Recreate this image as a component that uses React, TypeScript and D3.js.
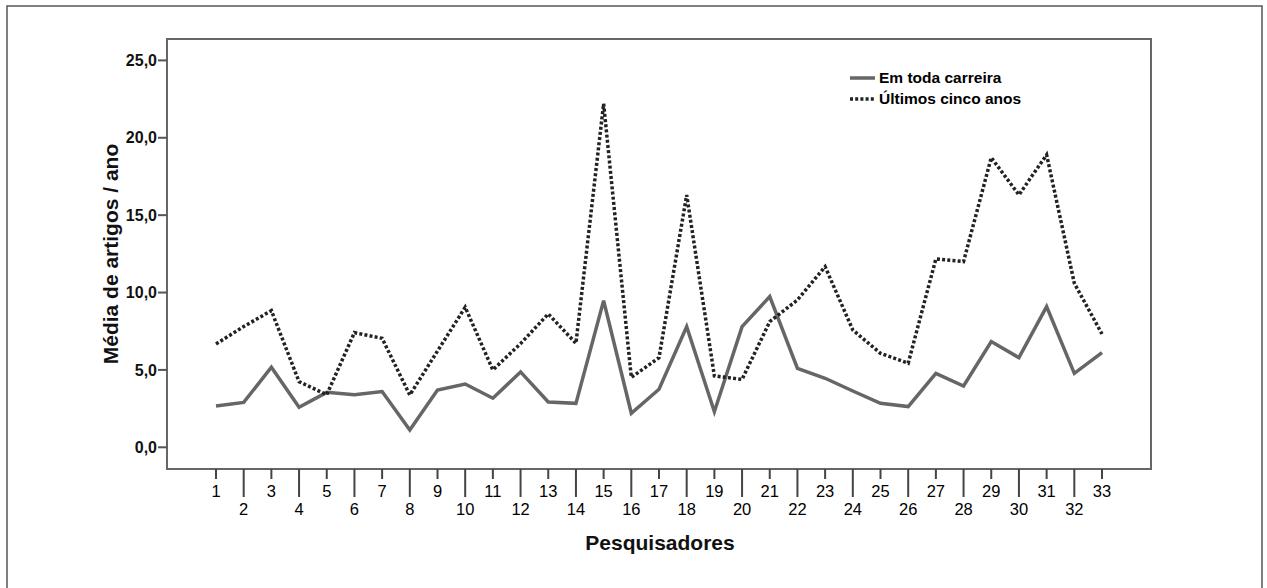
import React from "react";
import * as d3 from "d3";

const categories: number[] = d3.range(1, 34);
const careerValues: number[] = [
  2.67, 2.9, 5.17, 2.59, 3.55, 3.4, 3.6, 1.12, 3.7, 4.09, 3.17, 4.87, 2.93, 2.84, 9.48, 2.2,
  3.75, 7.8, 2.3, 7.8, 9.74, 5.1, 4.46, 3.64, 2.84, 2.63, 4.78, 3.96, 6.83, 5.79, 9.09, 4.78, 6.12,
];
const lastFiveValues: number[] = [
  6.68, 7.8, 8.83, 4.24, 3.4, 7.41, 7.04, 3.38, 6.22, 9.05, 5.0, 6.7, 8.62, 6.72, 22.2, 4.52,
  5.79, 16.3, 4.61, 4.39, 8.12, 9.52, 11.67, 7.58, 6.07, 5.43, 12.17, 12.0, 18.72, 16.31, 18.9, 10.6, 7.32,
];
const yTicks: number[] = [0, 5, 10, 15, 20, 25];
const seriesNames: string[] = ["Em toda carreira", "Últimos cinco anos"];

export default function App() {
  const W = 1267;
  const H = 588;
  const left = 167, right = 1151, top = 39, bottom = 469;
  const x = d3.scalePoint<number>().domain(categories).range([216, 1102]);
  const y = d3.scaleLinear().domain([0, 25]).range([447.3, 60.4]);
  const line = d3
    .line<number>()
    .x((_, i) => x(categories[i]) as number)
    .y((d) => y(d));
  const font = "Arial, 'Liberation Sans', Helvetica, sans-serif";
  const fmt = (v: number) => v.toFixed(1).replace(".", ",");

  return (
    <svg
      width={W}
      height={H}
      style={{ position: "absolute", left: 0, top: 0, background: "#fff" }}
      fontFamily={font}
    >
      <rect x={7} y={6} width={1255} height={600} fill="#fff" stroke="#555" strokeWidth={1.5} />
      {/* plot frame */}
      <rect x={left} y={top} width={right - left} height={bottom - top} fill="none" stroke="#666" strokeWidth={2} />
      {/* y axis ticks */}
      {yTicks.map((t) => (
        <g key={t}>
          <line x1={left - 9} x2={left} y1={y(t)} y2={y(t)} stroke="#555" strokeWidth={2} />
          <text
            x={left - 10}
            y={y(t)}
            dy="0.35em"
            textAnchor="end"
            fontSize={16}
            fontWeight="bold"
            fill="#111"
          >
            {fmt(t)}
          </text>
        </g>
      ))}
      {/* x axis ticks */}
      {categories.map((c, i) => {
        const odd = i % 2 === 0;
        const xx = x(c) as number;
        return (
          <g key={c}>
            <line x1={xx} x2={xx} y1={bottom} y2={odd ? 479 : 497} stroke="#444" strokeWidth={2} />
            <text x={xx} y={odd ? 491 : 509} dy="0.35em" textAnchor="middle" fontSize={16.5} fill="#000">
              {c}
            </text>
          </g>
        );
      })}
      {/* lines */}
      <path d={line(careerValues) || ""} fill="none" stroke="#666" strokeWidth={3.5} strokeLinejoin="miter" />
      <path
        d={line(lastFiveValues) || ""}
        fill="none"
        stroke="#222"
        strokeWidth={3.5}
        strokeDasharray="3 2.2"
      />
      {/* axis titles */}
      <text x={660} y={543} dy="0.35em" textAnchor="middle" fontSize={21} fontWeight="bold" fill="#111">
        Pesquisadores
      </text>
      <text
        transform={`translate(111,254) rotate(-90)`}
        dy="0.35em"
        textAnchor="middle"
        fontSize={21}
        fontWeight="bold"
        fill="#111"
      >
        Média de artigos / ano
      </text>
      {/* legend */}
      <g>
        <line x1={850} x2={875} y1={78} y2={78} stroke="#666" strokeWidth={3.5} />
        <text x={879} y={78} dy="0.35em" fontSize={15.5} fontWeight="bold" fill="#000">
          {seriesNames[0]}
        </text>
        <line x1={850} x2={875} y1={99} y2={99} stroke="#222" strokeWidth={3.5} strokeDasharray="3 2.2" />
        <text x={879} y={99} dy="0.35em" fontSize={15.5} fontWeight="bold" fill="#000">
          {seriesNames[1]}
        </text>
      </g>
    </svg>
  );
}
